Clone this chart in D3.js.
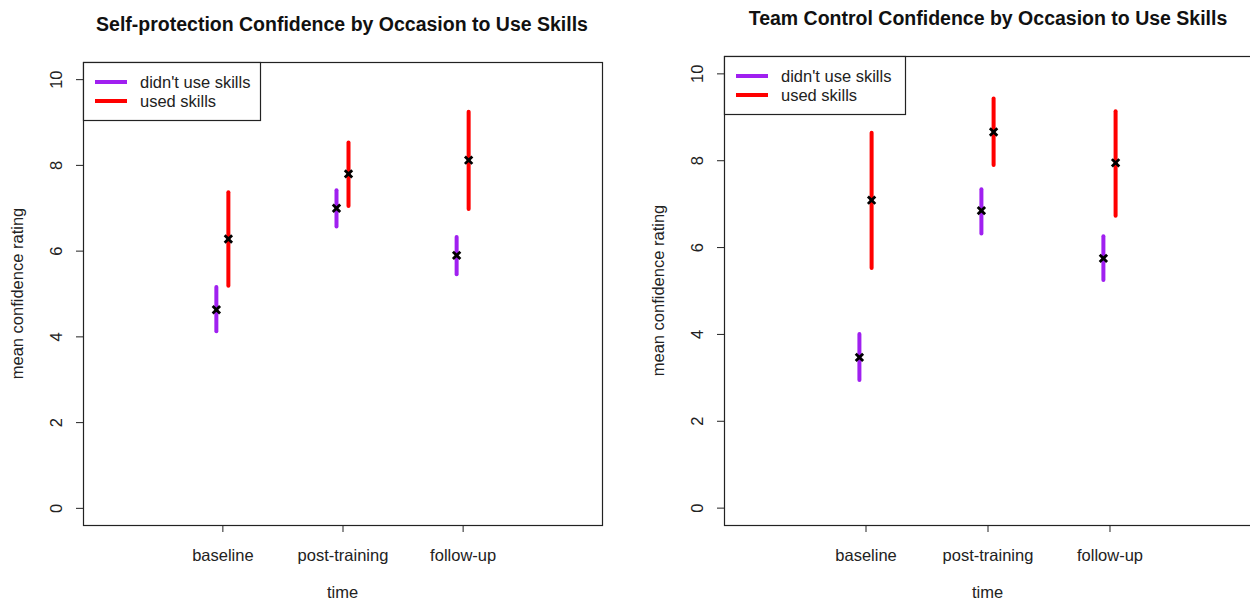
<!DOCTYPE html>
<html>
<head>
<meta charset="utf-8">
<script src="https://cdn.jsdelivr.net/npm/d3@7"></script>
<style>
  body { margin: 0; background: #fff; }
  svg { display: block; font-family: "Liberation Sans", Arial, sans-serif; }
</style>
</head>
<body>
<svg id="chart" width="1250" height="602"></svg>
<script>
// categories and groups
const timeLabels = ["baseline", "post-training", "follow-up"];
const groupLabels = ["didn't use skills", "used skills"];
const groupColors = ["#a020f0", "#ff0000"];
const yTicks = [0, 2, 4, 6, 8, 10];

// self-protection confidence (mean, lower, upper)
const spNoMean = [4.62, 6.99, 5.89];
const spNoLo   = [4.12, 6.56, 5.45];
const spNoHi   = [5.15, 7.41, 6.32];
const spUsedMean = [6.27, 7.79, 8.11];
const spUsedLo   = [5.18, 7.04, 6.97];
const spUsedHi   = [7.36, 8.52, 9.24];

// team control confidence (mean, lower, upper)
const tcNoMean = [3.46, 6.84, 5.74];
const tcNoLo   = [2.94, 6.31, 5.24];
const tcNoHi   = [4.00, 7.33, 6.25];
const tcUsedMean = [7.08, 8.65, 7.94];
const tcUsedLo   = [5.52, 7.89, 6.72];
const tcUsedHi   = [8.63, 9.42, 9.13];

const svg = d3.select("#chart");
const fs = 16.5; // regular text size

function series(mean, lo, hi) {
  return mean.map((m, i) => ({ t: i + 1, mean: m, lo: lo[i], hi: hi[i] }));
}

function drawPanel(opts) {
  const { left, right, top, bottom, title, titleX, titleY, data } = opts;
  const g = svg.append("g");

  // R style: 4% padding around xlim c(0,4) and ylim c(0,10)
  const x = d3.scaleLinear().domain([-0.16, 4.16]).range([left, right]);
  const y = d3.scaleLinear().domain([-0.4, 10.4]).range([bottom, top]);

  // title
  g.append("text")
    .attr("x", titleX)
    .attr("y", titleY)
    .attr("text-anchor", "middle")
    .attr("font-weight", "bold")
    .attr("font-size", 19.5)
    .attr("fill", "#111")
    .text(title);

  // y axis
  const yAxis = g.append("g")
    .attr("transform", `translate(${left},0)`)
    .call(d3.axisLeft(y).tickValues(yTicks).tickSize(7).tickSizeOuter(0));
  yAxis.select(".domain").remove();
  yAxis.selectAll("line").attr("stroke", "#222");
  yAxis.selectAll("text")
    .attr("x", null).attr("dy", null)
    .attr("transform", "translate(-21,0) rotate(-90)")
    .attr("text-anchor", "middle")
    .attr("font-size", fs)
    .attr("fill", "#222")
    .attr("font-family", "Liberation Sans, Arial, sans-serif");

  // x axis
  const xAxis = g.append("g")
    .attr("transform", `translate(0,${bottom})`)
    .call(d3.axisBottom(x).tickValues([1, 2, 3])
      .tickFormat(d => timeLabels[d - 1]).tickSize(7).tickSizeOuter(0));
  xAxis.select(".domain").remove();
  xAxis.selectAll("line").attr("stroke", "#222");
  xAxis.selectAll("text")
    .attr("y", 36).attr("dy", null)
    .attr("font-size", fs)
    .attr("fill", "#222")
    .attr("font-family", "Liberation Sans, Arial, sans-serif");

  // axis titles
  g.append("text")
    .attr("transform", `translate(${left - 60},${(top + bottom) / 2}) rotate(-90)`)
    .attr("text-anchor", "middle")
    .attr("font-size", fs)
    .attr("fill", "#222")
    .text("mean confidence rating");
  g.append("text")
    .attr("x", x(2))
    .attr("y", bottom + 73)
    .attr("text-anchor", "middle")
    .attr("font-size", fs)
    .attr("fill", "#222")
    .text("time");

  // plot box
  g.append("rect")
    .attr("x", left + 0.5).attr("y", top + 0.5)
    .attr("width", right - left).attr("height", bottom - top)
    .attr("fill", "none").attr("stroke", "#222").attr("stroke-width", 1.2);

  // error bars and means
  const offsets = [-0.05, 0.05];
  data.forEach((s, k) => {
    g.selectAll(null).data(s).enter().append("line")
      .attr("x1", d => x(d.t + offsets[k])).attr("x2", d => x(d.t + offsets[k]))
      .attr("y1", d => y(d.lo)).attr("y2", d => y(d.hi))
      .attr("stroke", groupColors[k]).attr("stroke-width", 4)
      .attr("stroke-linecap", "round");
  });
  data.forEach((s, k) => {
    const h = 3.7;
    g.selectAll(null).data(s).enter().append("path")
      .attr("d", d => {
        const cx = x(d.t + offsets[k]), cy = y(d.mean);
        return `M${cx - h},${cy - h}L${cx + h},${cy + h}M${cx - h},${cy + h}L${cx + h},${cy - h}`;
      })
      .attr("stroke", "#000").attr("stroke-width", 2.8).attr("fill", "none");
  });

  // legend
  const lg = g.append("g");
  lg.append("rect")
    .attr("x", left + 0.5).attr("y", top + 0.5)
    .attr("width", opts.legendW).attr("height", 58)
    .attr("fill", "#fff").attr("stroke", "#222").attr("stroke-width", 1.2);
  groupLabels.forEach((lab, k) => {
    const ly = top + 20 + k * 19;
    lg.append("line")
      .attr("x1", left + 12).attr("x2", left + 44)
      .attr("y1", ly).attr("y2", ly)
      .attr("stroke", groupColors[k]).attr("stroke-width", 4);
    lg.append("text")
      .attr("x", left + 57).attr("y", ly + 5.5)
      .attr("font-size", fs)
      .attr("fill", "#222")
      .text(lab);
  });
}

drawPanel({
  left: 83, right: 602, top: 62, bottom: 525, titleX: 342, titleY: 31,
  title: "Self-protection Confidence by Occasion to Use Skills",
  legendW: 177,
  data: [series(spNoMean, spNoLo, spNoHi), series(spUsedMean, spUsedLo, spUsedHi)]
});

drawPanel({
  left: 724, right: 1251, top: 56, bottom: 525, titleX: 988, titleY: 25,
  title: "Team Control Confidence by Occasion to Use Skills",
  legendW: 181,
  data: [series(tcNoMean, tcNoLo, tcNoHi), series(tcUsedMean, tcUsedLo, tcUsedHi)]
});
</script>
</body>
</html>
